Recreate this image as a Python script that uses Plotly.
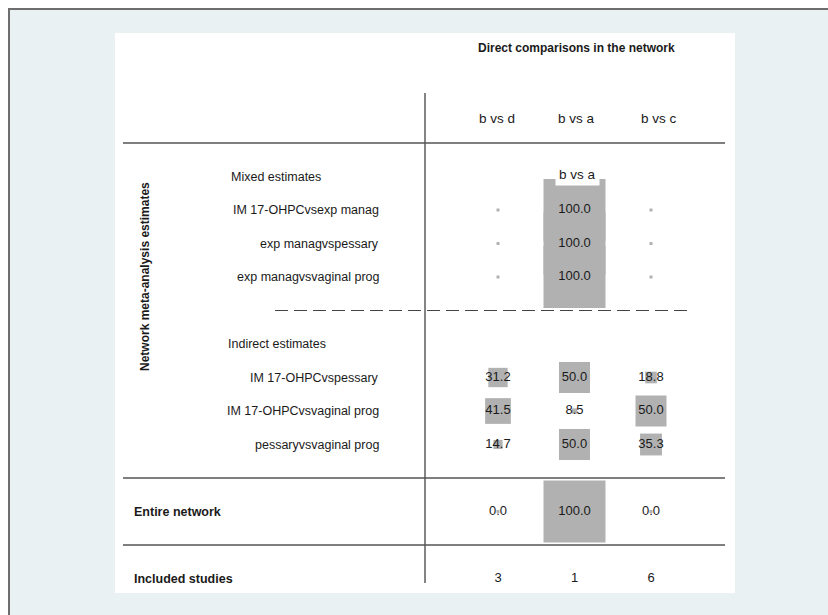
import plotly.graph_objects as go

# ---------------- data ----------------
columns = ["b vs d", "b vs a", "b vs c"]
mixed_labels = ["IM 17-OHPCvsexp manag", "exp managvspessary", "exp managvsvaginal prog"]
mixed_values = [[0.0, 100.0, 0.0], [0.0, 100.0, 0.0], [0.0, 100.0, 0.0]]
indirect_labels = ["IM 17-OHPCvspessary", "IM 17-OHPCvsvaginal prog", "pessaryvsvaginal prog"]
indirect_values = [[31.2, 50.0, 18.8], [41.5, 8.5, 50.0], [14.7, 50.0, 35.3]]
entire_values = [0.0, 100.0, 0.0]
included_studies = [3, 1, 6]

# ---------------- layout helpers ----------------
W, H = 828, 615
COL0_PX, COL_STEP = 498.0, 76.5      # pixel centre of first column, spacing
ROW0_PX, ROW_STEP = 210.0, 33.5      # pixel centre of first mixed row, spacing
XR = [(0 - COL0_PX) / COL_STEP, (W - COL0_PX) / COL_STEP]
YR = [(H - ROW0_PX) / ROW_STEP, (0 - ROW0_PX) / ROW_STEP]

def px_x(p):
    return (p - COL0_PX) / COL_STEP

def px_y(p):
    return (p - ROW0_PX) / ROW_STEP

BOX_SCALE = 0.62
BOX_COLOR = "#b1b1b1"
FONT = "Liberation Sans, Arial, sans-serif"
TXT = "#1a1a1a"

# row indices
mixed_rows = [0, 1, 2]
indirect_rows = [5, 6, 7]
entire_row = 9
included_row = 11

fig = go.Figure()

# boxes
bx, by, bs = [], [], []
for rows, vals in ((mixed_rows, mixed_values), (indirect_rows, indirect_values)):
    for r, rv in zip(rows, vals):
        for c, v in enumerate(rv):
            bx.append(c); by.append(r); bs.append(max(v * BOX_SCALE, 3))
for c, v in enumerate(entire_values):
    bx.append(c); by.append(entire_row); bs.append(max(v * BOX_SCALE, 3))
fig.add_trace(go.Scatter(x=bx, y=by, mode="markers",
                         marker=dict(symbol="square", size=bs, color=BOX_COLOR, opacity=1,
                                     line=dict(width=0)),
                         hoverinfo="skip", showlegend=False))

# value texts
tx, ty, tt = [], [], []
for r, rv in zip(mixed_rows, mixed_values):
    for c, v in enumerate(rv):
        if v > 0:
            tx.append(c); ty.append(r); tt.append(f"{v:.1f}")
for r, rv in zip(indirect_rows, indirect_values):
    for c, v in enumerate(rv):
        tx.append(c); ty.append(r); tt.append(f"{v:.1f}")
for c, v in enumerate(entire_values):
    tx.append(c); ty.append(entire_row); tt.append(f"{v:.1f}")
for c, v in enumerate(included_studies):
    tx.append(c); ty.append(included_row); tt.append(str(v))
fig.add_trace(go.Scatter(x=tx, y=ty, mode="text", text=tt,
                         textfont=dict(family=FONT, size=13, color=TXT),
                         hoverinfo="skip", showlegend=False))

ann = []
# title
ann.append(dict(x=1.03, y=px_y(48), text="<b>Direct comparisons in the network</b>",
                font=dict(family=FONT, size=12, color=TXT), showarrow=False))
# column headers
for c, name in enumerate(columns):
    ann.append(dict(x=c, y=px_y(118), text=name, font=dict(family=FONT, size=13.5, color=TXT),
                    showarrow=False, xshift=[-1, 2, 8][c]))
# secondary label above mixed box
ann.append(dict(x=1, y=px_y(174), text="b vs a", font=dict(family=FONT, size=13.5, color=TXT),
                showarrow=False, bgcolor="white", xshift=3, borderpad=3))
# section labels
ann.append(dict(x=px_x(229), y=-1, text="Mixed estimates", xanchor="left",
                font=dict(family=FONT, size=12.5, color=TXT), showarrow=False))
ann.append(dict(x=px_x(226), y=4, text="Indirect estimates", xanchor="left",
                font=dict(family=FONT, size=12.5, color=TXT), showarrow=False))
for r, lab in zip(mixed_rows + indirect_rows, mixed_labels + indirect_labels):
    ann.append(dict(x=px_x(381), y=r, text=lab, xanchor="right",
                    font=dict(family=FONT, size=12.5, color=TXT), showarrow=False))
ann.append(dict(x=px_x(132), y=entire_row, text="<b>Entire network</b>", xanchor="left",
                font=dict(family=FONT, size=12.5, color=TXT), showarrow=False))
ann.append(dict(x=px_x(132), y=included_row, text="<b>Included studies</b>", xanchor="left",
                font=dict(family=FONT, size=12.5, color=TXT), showarrow=False))
ann.append(dict(x=px_x(145), y=2, text="<b>Network meta-analysis estimates</b>", textangle=-90,
                font=dict(family=FONT, size=12, color=TXT), showarrow=False))

shapes = [
    # outer border / background
    dict(type="rect", xref="paper", yref="paper", x0=9 / W, x1=1.05, y0=-0.05, y1=1 - 9 / H,
         fillcolor="#e9f1f3", line=dict(color="#6e6e6e", width=2), layer="below"),
    # white panel
    dict(type="rect", xref="paper", yref="paper", x0=115 / W, x1=735 / W, y0=1 - 593 / H, y1=1 - 33 / H,
         fillcolor="white", line=dict(width=0), layer="below"),
    # vertical separator
    dict(type="line", x0=px_x(425), x1=px_x(425), y0=px_y(93), y1=px_y(583),
         line=dict(color="#333333", width=1.2)),
    # horizontal rules
    dict(type="line", x0=px_x(123), x1=px_x(725), y0=-2, y1=-2, line=dict(color="#555555", width=1.5)),
    dict(type="line", x0=px_x(123), x1=px_x(725), y0=8, y1=8, line=dict(color="#555555", width=1.5)),
    dict(type="line", x0=px_x(123), x1=px_x(725), y0=10, y1=10, line=dict(color="#555555", width=1.5)),
    # dashed separator
    dict(type="line", x0=px_x(275), x1=px_x(690), y0=3, y1=3,
         line=dict(color="#444444", width=1.2, dash="13px,6px")),
]

fig.update_layout(
    width=W, height=H, margin=dict(l=0, r=0, t=0, b=0),
    paper_bgcolor="white", plot_bgcolor="rgba(0,0,0,0)",
    xaxis=dict(range=XR, visible=False, fixedrange=True),
    yaxis=dict(range=YR, visible=False, fixedrange=True),
    annotations=ann, shapes=shapes, showlegend=False,
)

fig.write_html("out.html")
